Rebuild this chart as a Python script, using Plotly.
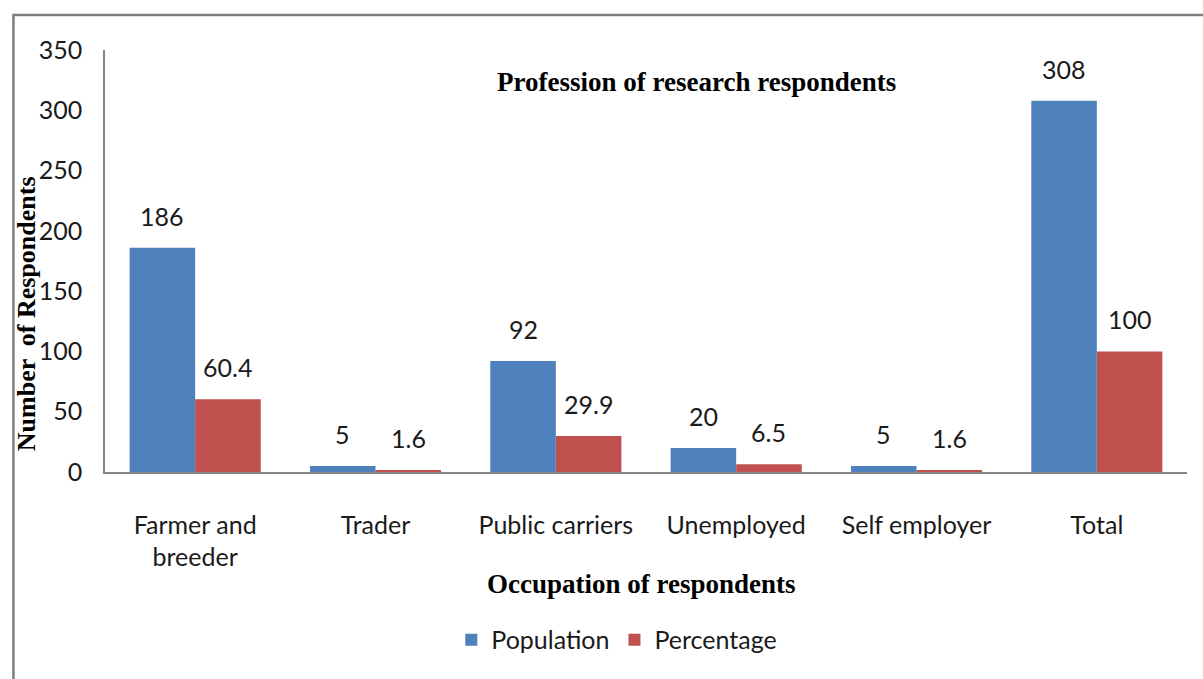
import plotly.graph_objects as go

# Survey data: occupation of respondents
categories = ["Farmer and<br>breeder", "Trader", "Public carriers",
              "Unemployed", "Self employer", "Total"]
population = [186, 5, 92, 20, 5, 308]
percentage = [60.4, 1.6, 29.9, 6.5, 1.6, 100]
y_ticks = [0, 50, 100, 150, 200, 250, 300, 350]

BLUE = "#4F81BD"
RED = "#C0504D"
TXT = "#1a1a1a"
SANS = "Lato, Calibri, sans-serif"
SERIF = "Liberation Serif, Times New Roman, serif"

fig = go.Figure()
fig.add_trace(go.Bar(x=categories, y=population, name="Population",
                     marker=dict(color=BLUE, line=dict(width=0))))
fig.add_trace(go.Bar(x=categories, y=percentage, name="Percentage",
                     marker=dict(color=RED, line=dict(width=0))))

# value labels above each bar
half_bar = 32.75
for cat, p, q in zip(categories, population, percentage):
    for val, shift in ((p, -half_bar), (q, half_bar)):
        fig.add_annotation(x=cat, y=val, xref="x", yref="y", text=f"{val:g}",
                           showarrow=False, xshift=shift, yshift=32,
                           yanchor="middle", font=dict(family=SANS, size=25, color=TXT))

fig.add_annotation(text="<b>Profession of research respondents</b>", xref="paper", yref="paper",
                   x=0.547, y=0.924, showarrow=False, xanchor="center", yanchor="middle",
                   font=dict(family=SERIF, size=27, color="#000000"))
fig.add_annotation(text="<b>Occupation of respondents</b>", xref="paper", yref="paper",
                   x=0.496, y=-0.265, showarrow=False, xanchor="center", yanchor="middle",
                   font=dict(family=SERIF, size=27, color="#000000"))
fig.add_annotation(text="<b>Number  of Respondents</b>", xref="paper", yref="paper",
                   x=-0.073, y=0.374, showarrow=False, textangle=-90,
                   xanchor="center", yanchor="middle",
                   font=dict(family=SERIF, size=26, color="#000000"))

# outer chart frame
fig.add_shape(type="rect", xref="paper", yref="paper",
              x0=-0.0846, x1=1.03, y0=-0.55, y1=1.083,
              line=dict(color="#7f7f7f", width=2.5), fillcolor="rgba(0,0,0,0)", layer="below")

fig.update_layout(
    width=1203, height=679,
    margin=dict(l=105, r=16, t=50, b=207),
    paper_bgcolor="white", plot_bgcolor="white",
    barmode="group", bargap=0.273, bargroupgap=0,
    showlegend=True,
    legend=dict(orientation="h", x=0.473, y=-0.398, xanchor="center", yanchor="middle",
                font=dict(family=SANS, size=25, color=TXT), itemwidth=30,
                traceorder="normal", bgcolor="rgba(0,0,0,0)"),
    xaxis=dict(showline=True, linecolor="#868686", linewidth=1.5, showgrid=False,
               ticks="", ticklabelstandoff=30,
               tickfont=dict(family=SANS, size=25, color=TXT)),
    yaxis=dict(range=[0, 350], tickvals=y_ticks, showline=True, linecolor="#868686",
               linewidth=1.5, showgrid=False, zeroline=False, ticks="",
               ticklabelstandoff=16,
               tickfont=dict(family=SANS, size=25, color=TXT)),
)

fig.write_html("out.html")
